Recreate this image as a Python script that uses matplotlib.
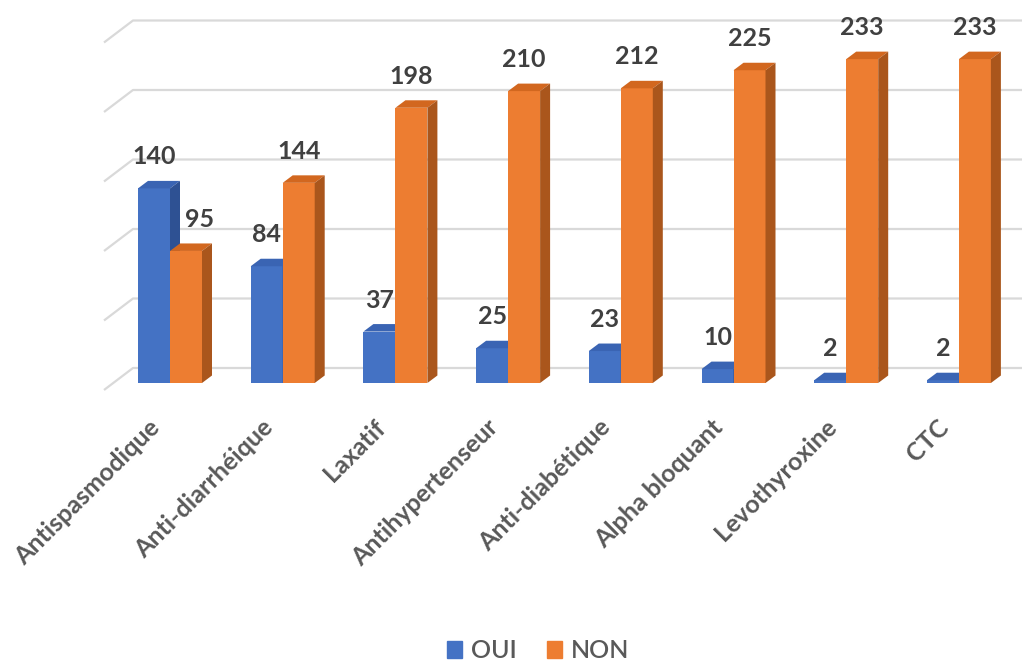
import matplotlib
matplotlib.use("Agg")
import matplotlib.pyplot as plt
from matplotlib.patches import Polygon, Patch
from matplotlib.transforms import ScaledTranslation

categories = ["Antispasmodique", "Anti-diarrhéique", "Laxatif", "Antihypertenseur",
              "Anti-diabétique", "Alpha bloquant", "Levothyroxine", "CTC"]
oui = [140, 84, 37, 25, 23, 10, 2, 2]
non = [95, 144, 198, 210, 212, 225, 233, 233]
series_names = ["OUI", "NON"]
grid_ticks = [0, 50, 100, 150, 200, 250]

# colours: front, top, side
BLUE = ("#4472C4", "#3A64B3", "#2E5193")
ORANGE = ("#ED7D31", "#D2671F", "#AA561C")
TXT = "#404040"
LBL = "#595959"
GRID = "#D9D9D9"

# layout (pixels)
W, H = 1022, 662
AX_L, AX_R, AX_T, AX_B = 100, 1022, 10, 400
X0_PX, STEP_PX = 170, 112.7
Y0_PX, SCALE = 383, 1.39
BAR_W = 32 / STEP_PX
DX, DY = 10 / STEP_PX, 7.5 / SCALE
WALL_DX, WALL_DY = (133 - X0_PX) / STEP_PX, 15 / SCALE
FLOOR_DX, FLOOR_DY = (104 - X0_PX) / STEP_PX, (15 - 22) / SCALE

fig = plt.figure(figsize=(W / 100, H / 100), dpi=100)
ax = fig.add_axes([AX_L / W, 1 - AX_B / H, (AX_R - AX_L) / W, (AX_B - AX_T) / H])
ax.set_xlim((AX_L - X0_PX) / STEP_PX, (AX_R - X0_PX) / STEP_PX)
ax.set_ylim((Y0_PX - AX_B) / SCALE, (Y0_PX - AX_T) / SCALE)
for s in ax.spines.values():
    s.set_visible(False)
ax.set_yticks([])

xmax = ax.get_xlim()[1]
for t in grid_ticks:
    ax.plot([FLOOR_DX, WALL_DX, xmax], [t + FLOOR_DY, t + WALL_DY, t + WALL_DY],
            color=GRID, lw=1.6, zorder=0, solid_capstyle="butt")

label_dx = {(0, 1): 14}

n = len(categories)
for i in range(n):
    for k, (vals, cols) in enumerate([(oui, BLUE), (non, ORANGE)]):
        v = vals[i]
        xl = i - BAR_W + k * BAR_W
        z = 2 + i * 2 + k
        ax.bar(xl, v, width=BAR_W, align="edge", color=cols[0], zorder=z, lw=0)
        top = [(xl, v), (xl + BAR_W, v), (xl + BAR_W + DX, v + DY), (xl + DX, v + DY)]
        side = [(xl + BAR_W, 0), (xl + BAR_W + DX, DY), (xl + BAR_W + DX, v + DY), (xl + BAR_W, v)]
        ax.add_patch(Polygon(top, closed=True, fc=cols[1], ec="none", zorder=z))
        ax.add_patch(Polygon(side, closed=True, fc=cols[2], ec="none", zorder=z))
        ax.annotate(str(v), (xl + BAR_W / 2, v + DY), xytext=(label_dx.get((i, k), 0) * 0.72, 9),
                    textcoords="offset points", ha="center", va="bottom",
                    fontsize=18, fontweight="bold", color=TXT, family="Lato", zorder=50)

ax.set_xticks(range(n))
ax.set_xticklabels(categories, rotation=45, ha="right", rotation_mode="anchor",
                   fontsize=18, color=LBL, family="Lato", fontweight="bold")
ax.tick_params(axis="x", length=0, pad=11)
shift = ScaledTranslation(-22 / 100, 0, fig.dpi_scale_trans)
for lab in ax.get_xticklabels():
    lab.set_transform(lab.get_transform() + shift)

handles = [Patch(color=BLUE[0]), Patch(color=ORANGE[0])]
fig.legend(handles, series_names, loc="center", bbox_to_anchor=(538 / W, 11 / H), ncol=2,
           frameon=False, handlelength=0.6, handleheight=0.65, handletextpad=0.35,
           columnspacing=1.2, prop={"family": "Lato", "size": 18, "weight": "semibold"},
           labelcolor=LBL)

fig.savefig("out.png", dpi=100)
